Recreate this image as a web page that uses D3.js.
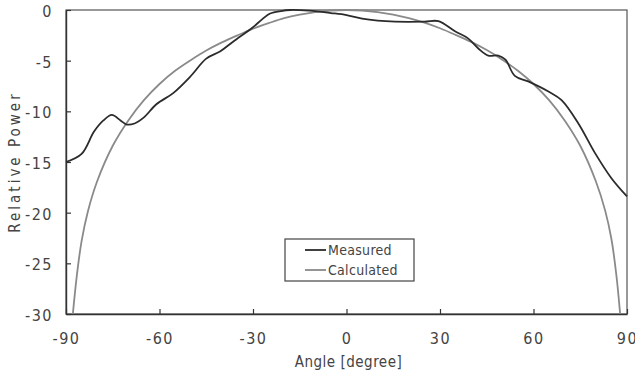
<!DOCTYPE html>
<html>
<head>
<meta charset="utf-8">
<script src="https://cdn.jsdelivr.net/npm/d3@7"></script>
<style>
  body { margin: 0; background: #fff; }
  text { font-family: "DejaVu Sans Condensed", "DejaVu Sans", sans-serif; font-stretch: condensed; fill: #444; }
</style>
</head>
<body>
<svg id="chart" width="635" height="377"></svg>
<script>
// angle [degree] and relative power
const measuredAngle = [-90, -85, -81, -78, -75.3, -72.5, -70.5, -68, -65, -61, -55.6, -50.2, -45, -40.6, -36.3, -30, -27, -24.5, -21, -18, -12, -5, 0, 5, 10, 15.6, 25, 29.5, 34.8, 39, 42.3, 45.5, 48.7, 51, 54, 58.3, 64.8, 69, 74.4, 79.7, 85, 90];
const measuredPower = [-15.0, -14.2, -12.0, -10.9, -10.35, -10.9, -11.3, -11.2, -10.6, -9.3, -8.2, -6.6, -4.8, -4.1, -3.1, -1.7, -0.9, -0.35, -0.1, 0, -0.07, -0.3, -0.5, -0.85, -1.05, -1.15, -1.15, -1.1, -2.1, -2.8, -3.8, -4.5, -4.5, -4.9, -6.5, -7.05, -8.05, -8.9, -11.2, -14.1, -16.6, -18.4];

const calcAngle = [-87.8, -86.6, -85, -83, -80, -75, -70, -65, -60, -55, -50, -45, -40, -35, -30, -25, -20, -15, -10, -5, 0, 5, 10, 15, 20, 25, 30, 35, 40, 45, 50, 55, 60, 65, 70, 75, 80, 83, 85, 86.6, 87.8];
const calcPower = [-30, -26.4, -22.8, -19.9, -16.9, -13.4, -10.9, -8.9, -7.3, -6.0, -4.95, -4.0, -3.2, -2.5, -1.85, -1.3, -0.8, -0.45, -0.2, -0.05, 0, -0.05, -0.2, -0.45, -0.8, -1.25, -1.8, -2.45, -3.15, -3.95, -4.9, -6.0, -7.3, -8.9, -10.9, -13.4, -16.9, -19.8, -22.6, -26.2, -30];

const xTicks = [-90, -60, -30, 0, 30, 60, 90];
const yTicks = [0, -5, -10, -15, -20, -25, -30];

const legendNames = ['Measured', 'Calculated'];
const lineColors = ['#2b2b2b', '#8a8a8a'];

const svg = d3.select('#chart');
const margin = { top: 10, right: 8, bottom: 63, left: 66 };
const width = 635 - margin.left - margin.right;
const height = 377 - margin.top - margin.bottom;
const g = svg.append('g').attr('transform', 'translate(' + margin.left + ',' + margin.top + ')');

const x = d3.scaleLinear().domain([-90, 90]).range([0, width]);
const y = d3.scaleLinear().domain([-30, 0]).range([height, 0]);

// plain hyphen, no unicode minus
const fmt = function(d) { return String(d); };

// frame
g.append('rect')
  .attr('width', width)
  .attr('height', height)
  .attr('fill', 'none')
  .attr('stroke', '#555')
  .attr('stroke-width', 1.2);

const xAxis = g.append('g')
  .attr('transform', 'translate(0,' + height + ')')
  .call(d3.axisBottom(x).tickValues(xTicks).tickFormat(fmt).tickSizeInner(-5).tickSizeOuter(0).tickPadding(19));

const yAxis = g.append('g')
  .call(d3.axisLeft(y).tickValues(yTicks).tickFormat(fmt).tickSizeInner(-5).tickSizeOuter(0).tickPadding(13));

[xAxis, yAxis].forEach(function(a) {
  a.select('.domain').attr('stroke', '#333').attr('stroke-width', 1.4);
  a.selectAll('.tick line').attr('stroke', '#333').attr('stroke-width', 1.2);
  a.selectAll('.tick text')
    .attr('fill', '#444')
    .style('font-size', '16px')
    .style('letter-spacing', '1.5px')
    .style('font-family', '"DejaVu Sans Condensed", "DejaVu Sans", sans-serif');
});
yAxis.selectAll('.tick text').attr('dy', '0.4em');

// axis titles
svg.append('text')
  .attr('x', margin.left + x(0) + 2)
  .attr('y', 367)
  .attr('text-anchor', 'middle')
  .style('font-size', '15px')
  .style('letter-spacing', '0.5px')
  .text('Angle [degree]');

svg.append('text')
  .attr('transform', 'translate(20,' + (margin.top + height / 2) + ') rotate(-90)')
  .attr('text-anchor', 'middle')
  .style('font-size', '15px')
  .style('letter-spacing', '3px')
  .text('Relative Power');

const line = d3.line()
  .x(function(d) { return x(d[0]); })
  .y(function(d) { return y(d[1]); })
  .curve(d3.curveCatmullRom.alpha(0.5));

const series = [
  d3.zip(measuredAngle, measuredPower),
  d3.zip(calcAngle, calcPower)
];

// calculated drawn first, measured on top
[1, 0].forEach(function(i) {
  g.append('path')
    .datum(series[i])
    .attr('fill', 'none')
    .attr('stroke', lineColors[i])
    .attr('stroke-width', 1.8)
    .attr('d', line);
});

// legend
const legend = svg.append('g').attr('transform', 'translate(285,239)');
legend.append('rect')
  .attr('width', 129)
  .attr('height', 42)
  .attr('fill', '#fff')
  .attr('stroke', '#444')
  .attr('stroke-width', 1.2);

legendNames.forEach(function(name, i) {
  const row = legend.append('g').attr('transform', 'translate(0,' + (11 + i * 20) + ')');
  row.append('line')
    .attr('x1', 20).attr('x2', 41)
    .attr('stroke', lineColors[i])
    .attr('stroke-width', 1.8);
  row.append('text')
    .attr('x', 43)
    .attr('dy', '0.36em')
    .style('font-size', '14px')
    .style('letter-spacing', '0.3px')
    .text(name);
});
</script>
</body>
</html>
